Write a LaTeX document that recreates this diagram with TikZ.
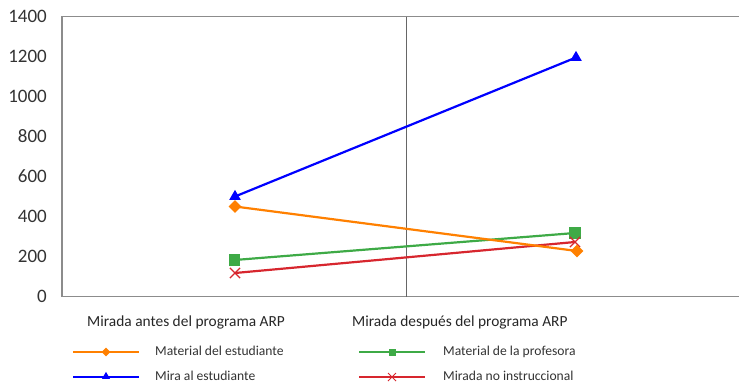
\documentclass[tikz,border=0pt]{standalone}
\usepackage{fontspec}
\setmainfont{Carlito}
\usetikzlibrary{shapes.geometric,shapes.misc}
\definecolor{cor}{HTML}{FF8000}
\definecolor{cbl}{HTML}{0000FF}
\definecolor{cgr}{HTML}{3EAA46}
\definecolor{crd}{HTML}{D7262E}
\definecolor{ctx}{HTML}{333333}
\definecolor{cax}{HTML}{8C8C8C}
\tikzset{
  axisline/.style={draw=cax,line width=1.5pt},
  midline/.style={draw=black!60,line width=1pt},
  tick/.style={anchor=east,text=ctx,font=\fontsize{19}{21}\selectfont,inner sep=0pt},
  legtxt/.style={anchor=base west,text=ctx,font=\fontsize{13.6}{15}\selectfont,inner sep=0pt},
  legtitle/.style={anchor=base west,text=black!85,font=\fontsize{15.4}{17}\selectfont,inner sep=0pt},
  series/.style={line width=2.2pt},
  dia/.style={diamond,fill=cor,inner sep=0pt,minimum width=13pt,minimum height=13pt},
  sqm/.style={rectangle,fill=cgr,inner sep=0pt,minimum size=11.5pt},
  trim/.style={isosceles triangle,isosceles triangle apex angle=60,shape border rotate=90,fill=cbl,inner sep=0pt,minimum height=10pt},
  crm/.style={cross out,draw=crd,line width=1.2pt,inner sep=0pt,minimum size=9pt},
  dias/.style={diamond,fill=cor,inner sep=0pt,minimum width=9pt,minimum height=9pt},
  sqs/.style={rectangle,fill=cgr,inner sep=0pt,minimum size=7pt},
  tris/.style={isosceles triangle,isosceles triangle apex angle=60,shape border rotate=90,fill=cbl,inner sep=0pt,minimum height=7pt},
  crs/.style={cross out,draw=crd,line width=1pt,inner sep=0pt,minimum size=7pt},
}
\begin{document}
\begin{tikzpicture}[x=1pt,y=-1pt]
\useasboundingbox (0,0) rectangle (739,384);
% axes
\coordinate (tl) at (62,16.5);
\coordinate (tr) at (739,16.5);
\coordinate (bl) at (62,296.5);
\coordinate (br) at (739,296.5);
\coordinate (mt) at (406,16.5);
\coordinate (mb) at (406,296.5);
\draw[axisline] (tr) -- (tl) -- (bl) -- (br);
\draw[midline] (mt) -- (mb);
% ticks
\foreach \v in {0,200,...,1400}{
  \node[tick] (t\v) at (47,{296.5-\v*0.2}) {\v};
}
% series lines
\coordinate (g1) at (234.5,260);
\coordinate (g2) at (575,233);
\coordinate (r1) at (235,273);
\coordinate (r2) at (575,242);
\coordinate (o1) at (235,206.5);
\coordinate (o2) at (577,251);
\coordinate (b1) at (235,196.5);
\coordinate (b2) at (576,57.5);
\draw[series,cgr] (g1) -- (g2);
\node[sqm] (G1) at (g1) {};
\node[sqm] (G2) at (g2) {};
\draw[series,crd] (r1) -- (r2);
\node[crm] (R1) at (r1) {};
\node[crm] (R2) at (r2) {};
\draw[series,cor] (o1) -- (o2);
\node[dia] (O1) at (o1) {};
\node[dia] (O2) at (o2) {};
\draw[series,cbl] (b1) -- (b2);
\node[trim] (B1) at (b1) {};
\node[trim] (B2) at (b2) {};
% legend
\node[legtitle] (lt1) at (87,326.5) {Mirada antes del programa ARP};
\node[legtitle] (lt2) at (352,326.5) {Mirada después del programa ARP};
\coordinate (la1) at (73,352); \coordinate (la2) at (139,352);
\draw[line width=1.8pt,cor] (la1) -- (la2);
\node[dias] (lam) at (106,352) {};
\node[legtxt] (lat) at (155,355.5) {Material del estudiante};
\coordinate (lb1) at (73,377); \coordinate (lb2) at (139,377);
\draw[line width=1.8pt,cbl] (lb1) -- (lb2);
\node[tris] (lbm) at (106,376.5) {};
\node[legtxt] (lbt) at (155,380) {Mira al estudiante};
\coordinate (lc1) at (359,352); \coordinate (lc2) at (425,352);
\draw[line width=1.8pt,cgr] (lc1) -- (lc2);
\node[sqs] (lcm) at (392,352) {};
\node[legtxt] (lct) at (443,355.5) {Material de la profesora};
\coordinate (ld1) at (359,377); \coordinate (ld2) at (425,377);
\draw[line width=1.8pt,crd] (ld1) -- (ld2);
\node[crs] (ldm) at (392,377) {};
\node[legtxt] (ldt) at (443,380) {Mirada no instruccional};
\end{tikzpicture}
\end{document}
